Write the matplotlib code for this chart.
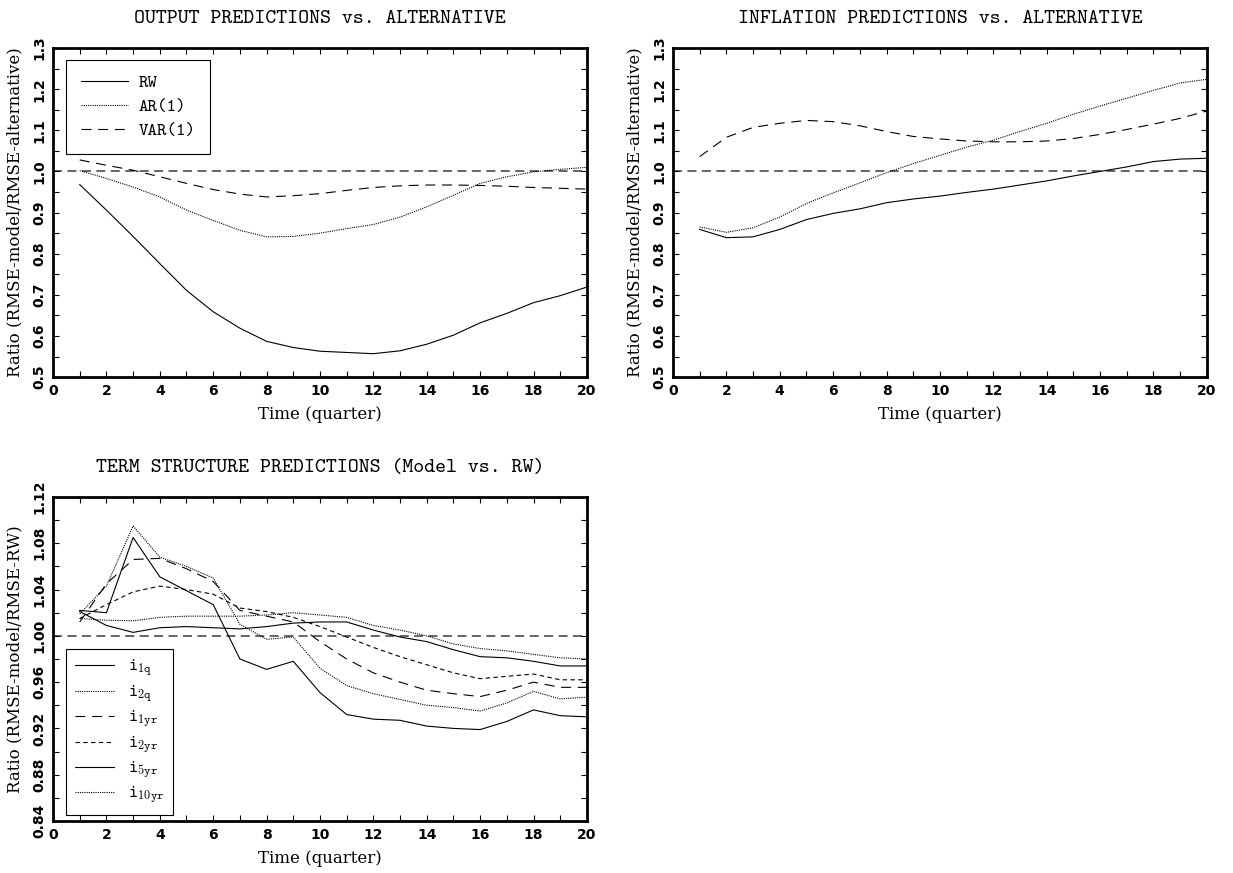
import numpy as np
import matplotlib.pyplot as plt
from matplotlib.ticker import MultipleLocator

plt.rcParams['mathtext.fontset'] = 'cm'

# horizon (quarters)
q = np.arange(1, 21)

# output: ratio RMSE-model / RMSE-alternative
out_rw = [0.968, 0.906, 0.842, 0.776, 0.711, 0.659, 0.619, 0.587, 0.572, 0.563,
          0.560, 0.557, 0.564, 0.580, 0.602, 0.632, 0.655, 0.681, 0.698, 0.719]
out_ar = [1.002, 0.983, 0.962, 0.938, 0.906, 0.881, 0.857, 0.841, 0.842, 0.850,
          0.861, 0.871, 0.889, 0.914, 0.942, 0.971, 0.987, 0.999, 1.005, 1.010]
out_var = [1.028, 1.015, 1.003, 0.987, 0.971, 0.956, 0.945, 0.938, 0.941, 0.946,
           0.954, 0.961, 0.965, 0.967, 0.967, 0.966, 0.964, 0.961, 0.959, 0.957]

# inflation
inf_rw = [0.859, 0.839, 0.841, 0.859, 0.883, 0.898, 0.909, 0.924, 0.933, 0.940,
          0.949, 0.957, 0.967, 0.977, 0.989, 1.000, 1.011, 1.024, 1.030, 1.032]
inf_ar = [0.865, 0.852, 0.863, 0.889, 0.922, 0.948, 0.972, 0.997, 1.019, 1.039,
          1.059, 1.076, 1.097, 1.117, 1.139, 1.159, 1.178, 1.197, 1.215, 1.224]
inf_var = [1.036, 1.083, 1.107, 1.117, 1.124, 1.121, 1.111, 1.097, 1.085, 1.079,
           1.074, 1.072, 1.072, 1.074, 1.080, 1.090, 1.102, 1.115, 1.129, 1.147]

# term structure: model vs RW
i1q = [1.022, 1.020, 1.085, 1.051, 1.039, 1.027, 0.980, 0.971, 0.978, 0.951,
       0.932, 0.928, 0.927, 0.922, 0.920, 0.919, 0.926, 0.936, 0.931, 0.930]
i2q = [1.019, 1.043, 1.095, 1.068, 1.060, 1.050, 1.010, 0.997, 0.999, 0.972,
       0.957, 0.950, 0.945, 0.940, 0.938, 0.935, 0.942, 0.952, 0.9455, 0.947]
i1yr = [1.012, 1.045, 1.066, 1.067, 1.058, 1.047, 1.022, 1.017, 1.012, 0.995,
        0.980, 0.968, 0.960, 0.953, 0.950, 0.9475, 0.953, 0.960, 0.9555, 0.9555]
i2yr = [1.015, 1.027, 1.038, 1.043, 1.040, 1.036, 1.024, 1.021, 1.016, 1.008,
        0.999, 0.990, 0.982, 0.975, 0.968, 0.963, 0.965, 0.967, 0.962, 0.962]
i5yr = [1.021, 1.009, 1.003, 1.007, 1.008, 1.007, 1.006, 1.008, 1.011, 1.012,
        1.012, 1.005, 0.999, 0.995, 0.988, 0.982, 0.981, 0.978, 0.974, 0.974]
i10yr = [1.015, 1.0135, 1.013, 1.016, 1.017, 1.017, 1.017, 1.018, 1.020, 1.018,
         1.016, 1.009, 1.005, 1.000, 0.993, 0.989, 0.987, 0.984, 0.981, 0.980]

SOLID = '-'
DOT = (0, (1, 1))
LDASH = (0, (9, 6))
SDASH = (0, (4, 3))

TITLE_FONT = dict(family='cmtt10', fontsize=15)
LABEL_FONT = dict(family='DejaVu Serif', fontsize=12)
TICK_FONT = dict(family='DejaVu Sans', fontsize=10, weight='bold')

fig = plt.figure(figsize=(12.33, 8.73), dpi=100)


def style_axes(ax, ylim, ymaj, ymin, yfmt, title, ylabel):
    ax.set_xlim(0, 20)
    ax.set_ylim(*ylim)
    ax.xaxis.set_minor_locator(MultipleLocator(1))
    ax.yaxis.set_minor_locator(MultipleLocator(ymin))
    ax.tick_params(which='both', direction='in', top=True, right=True,
                   length=4, width=0.8, pad=5)
    ax.set_xticks(np.arange(0, 21, 2))
    ax.set_xticklabels([str(v) for v in range(0, 21, 2)], **TICK_FONT)
    yt = np.arange(ylim[0], ylim[1] + ymaj / 2, ymaj)
    ax.set_yticks(yt)
    ax.set_yticklabels([yfmt.format(v) for v in yt], rotation=90,
                       va='center', **TICK_FONT)
    for s in ax.spines.values():
        s.set_linewidth(2)
    ax.axhline(1.0, color='0.35', lw=1.3, ls=(0, (5, 3)), zorder=1)
    ax.set_title(title, pad=18, **TITLE_FONT)
    ax.set_xlabel('Time (quarter)', labelpad=6, **LABEL_FONT)
    ax.set_ylabel(ylabel, labelpad=6, **LABEL_FONT)


# Output panel
ax1 = fig.add_axes([0.043, 0.568, 0.433, 0.377])
ax1.plot(q, out_rw, color='k', lw=0.8, ls=SOLID, label='RW')
ax1.plot(q, out_ar, color='k', lw=0.8, ls=DOT, label='AR(1)')
ax1.plot(q, out_var, color='k', lw=0.8, ls=LDASH, label='VAR(1)')
style_axes(ax1, (0.5, 1.3), 0.1, 0.05, '{:.1f}',
           'OUTPUT PREDICTIONS vs. ALTERNATIVE',
           'Ratio (RMSE-model/RMSE-alternative)')
leg = ax1.legend(loc='upper left', bbox_to_anchor=(0.008, 0.99), fancybox=False,
                 edgecolor='k', handlelength=2.6, handletextpad=0.6,
                 borderpad=0.8, labelspacing=0.4, framealpha=1,
                 prop={'family': 'cmtt10', 'size': 13})
leg.get_frame().set_linewidth(0.8)

# Inflation panel
ax2 = fig.add_axes([0.5458, 0.568, 0.433, 0.377])
ax2.plot(q, inf_rw, color='k', lw=0.8, ls=SOLID)
ax2.plot(q, inf_ar, color='k', lw=0.8, ls=DOT)
ax2.plot(q, inf_var, color='k', lw=0.8, ls=LDASH)
style_axes(ax2, (0.5, 1.3), 0.1, 0.05, '{:.1f}',
           'INFLATION PREDICTIONS vs. ALTERNATIVE',
           'Ratio (RMSE-model/RMSE-alternative)')

# Term structure panel
ax3 = fig.add_axes([0.043, 0.0596, 0.433, 0.3711])
ax3.plot(q, i1q, color='k', lw=0.8, ls=SOLID, label=r'$\mathtt{i}_{\mathtt{1q}}$')
ax3.plot(q, i2q, color='k', lw=0.8, ls=DOT, label=r'$\mathtt{i}_{\mathtt{2q}}$')
ax3.plot(q, i1yr, color='k', lw=0.8, ls=LDASH, label=r'$\mathtt{i}_{\mathtt{1yr}}$')
ax3.plot(q, i2yr, color='k', lw=0.8, ls=SDASH, label=r'$\mathtt{i}_{\mathtt{2yr}}$')
ax3.plot(q, i5yr, color='k', lw=0.8, ls=SOLID, label=r'$\mathtt{i}_{\mathtt{5yr}}$')
ax3.plot(q, i10yr, color='k', lw=0.8, ls=DOT, label=r'$\mathtt{i}_{\mathtt{10yr}}$')
style_axes(ax3, (0.84, 1.12), 0.04, 0.02, '{:.2f}',
           'TERM STRUCTURE PREDICTIONS (Model vs. RW)',
           'Ratio (RMSE-model/RMSE-RW)')
leg3 = ax3.legend(loc='lower left', bbox_to_anchor=(0.024, 0.018), borderaxespad=0,
                  fancybox=False, edgecolor='k', handlelength=2.3, handletextpad=0.8,
                  borderpad=0.5, labelspacing=0.2, framealpha=1,
                  prop={'size': 12.5})
leg3.get_frame().set_linewidth(0.8)

fig.savefig('out.png', dpi=100)
